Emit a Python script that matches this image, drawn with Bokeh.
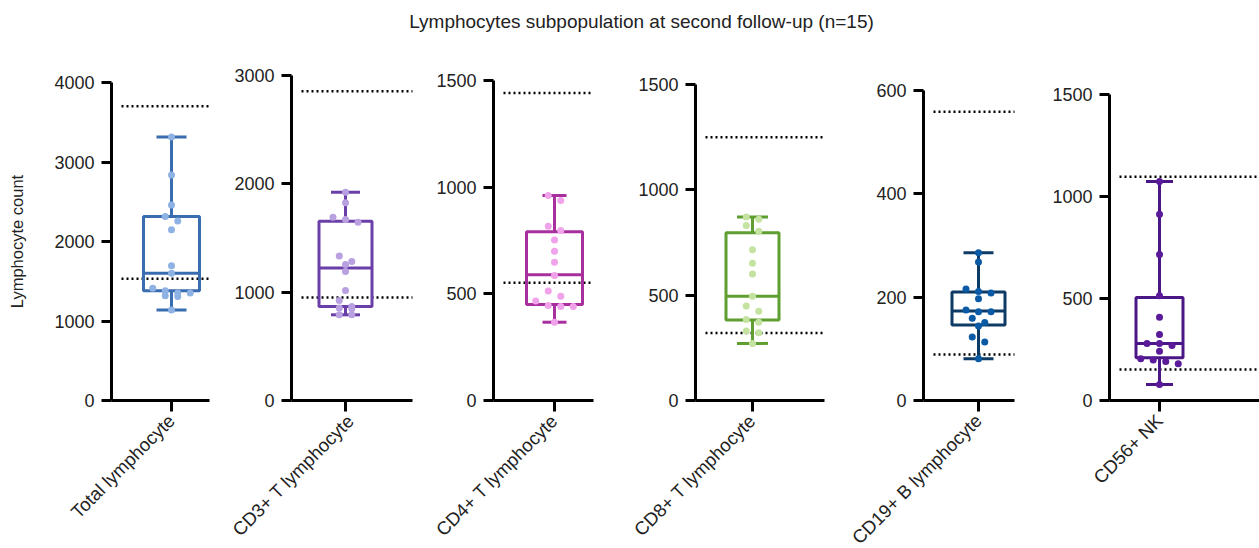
import math
from bokeh.plotting import figure
from bokeh.layouts import row, column
from bokeh.models import Range1d, FixedTicker
from bokeh.core.properties import value
from bokeh.embed import file_html
from bokeh.resources import INLINE

# ---------------- data ----------------
title_text = "Lymphocytes subpopulation at second follow-up (n=15)"
y_label = "Lymphocyte count"
categories = ["Total lymphocyte", "CD3+ T lymphocyte", "CD4+ T lymphocyte",
              "CD8+ T lymphocyte", "CD19+ B lymphocyte", "CD56+ NK"]

values_total = [3313, 2836, 2459, 2316, 2258, 2149, 1696, 1600, 1411, 1382, 1353, 1353, 1319, 1307, 1139]
values_cd3 = [1923, 1825, 1692, 1671, 1646, 1335, 1283, 1255, 1191, 1015, 923, 868, 855, 846, 791, 791]
values_cd4 = [961, 938, 817, 797, 752, 700, 648, 586, 513, 489, 466, 445, 441, 441, 367]
values_cd8 = [871, 860, 831, 803, 715, 651, 600, 495, 449, 424, 385, 371, 330, 322, 271]
values_cd19 = [286, 268, 216, 211, 208, 197, 175, 172, 172, 159, 151, 144, 123, 113, 81]
values_cd56 = [1073, 913, 716, 513, 408, 324, 279, 279, 269, 241, 205, 199, 191, 180, 78]
all_values = [values_total, values_cd3, values_cd4, values_cd8, values_cd19, values_cd56]

box_low = [1139, 791, 367, 271, 81, 78]
box_q1 = [1382, 868, 450, 382, 146, 209]
box_median = [1600, 1222, 589, 495, 173, 279]
box_q3 = [2316, 1655, 791, 796, 210, 505]
box_high = [3313, 1923, 961, 871, 286, 1073]

ref_upper = [3700, 2855, 1441, 1250, 559, 1097]
ref_lower = [1530, 951, 552, 320, 89, 152]

y_max = [4000, 3000, 1500, 1500, 600, 1500]
y_step = [1000, 1000, 500, 500, 200, 500]

box_colors = ["#3A6DB0", "#6A3FA8", "#A8309E", "#5F9E30", "#0E3A66", "#4B1686"]
point_colors = ["#8DB2E3", "#B9A0E0", "#F0A3EA", "#C5E3A0", "#0B5AA6", "#5A1A9A"]

# ---------------- layout (page pixels) ----------------
PAGE_W, PAGE_H = 1259, 548
title_h = 40
zero_y = 400                                   # page y of the value 0
axis_top_y = [82, 75, 80, 84, 90, 94]          # page y of each panel's top tick
fig_edges = [0, 225, 430, 625, 845, 1040, PAGE_W]
axis_x = [111, 291, 493, 695, 923, 1109]       # y-axis line
center_x = [171, 345, 554, 752, 978, 1159]     # box centre
frame_end_x = [209, 412, 593, 824, 1014, PAGE_W]
box_w = [56, 53, 56, 53, 53, 47]
cap_w = [30, 29, 24, 31, 30, 27]

FONT = "Liberation Sans"
TXT = "#222222"


def swarm(vals, px_per_unit, step=12.5, row_gap=6.0):
    """Simple beeswarm: group close points into rows, centre each row."""
    order = sorted(range(len(vals)), key=lambda k: -vals[k])
    rows, cur = [], []
    for k in order:
        if cur and (vals[cur[0]] - vals[k]) * px_per_unit >= row_gap:
            rows.append(cur)
            cur = []
        cur.append(k)
    if cur:
        rows.append(cur)
    xs = [0.0] * len(vals)
    for r in rows:
        n = len(r)
        for j, k in enumerate(r):
            xs[k] = (j - (n - 1) / 2) * step
    return xs


fig_h = PAGE_H - title_h
figs = []
for i, cat in enumerate(categories):
    ppu = (zero_y - axis_top_y[i]) / y_max[i]
    cx = center_x[i]
    xr = Range1d(fig_edges[i] - cx, fig_edges[i + 1] - cx)
    yr = Range1d((zero_y - PAGE_H) / ppu, (zero_y - title_h) / ppu)
    p = figure(width=fig_edges[i + 1] - fig_edges[i], height=fig_h,
               x_range=xr, y_range=yr, toolbar_location=None, output_backend="svg",
               min_border=0)
    p.outline_line_color = None
    p.grid.visible = False
    ax_left = axis_x[i] - cx
    ax_right = frame_end_x[i] - cx

    # reference (dotted) lines
    x0 = ax_left + 10
    p.segment(x0=[x0, x0], x1=[ax_right, ax_right], y0=[ref_upper[i], ref_lower[i]],
              y1=[ref_upper[i], ref_lower[i]], line_color="black", line_width=2.5,
              line_dash="2 3")

    c = box_colors[i]
    hw = box_w[i] / 2
    cw = cap_w[i] / 2
    # whiskers
    p.segment(x0=[0, 0], x1=[0, 0], y0=[box_q3[i], box_q1[i]], y1=[box_high[i], box_low[i]],
              line_color=c, line_width=3)
    p.segment(x0=[-cw, -cw], x1=[cw, cw], y0=[box_high[i], box_low[i]], y1=[box_high[i], box_low[i]],
              line_color=c, line_width=3)
    # box
    p.quad(left=[-hw], right=[hw], bottom=[box_q1[i]], top=[box_q3[i]],
           fill_color=None, line_color=c, line_width=3)
    p.segment(x0=[-hw], x1=[hw], y0=[box_median[i]], y1=[box_median[i]], line_color=c, line_width=3)

    # points
    vals = all_values[i]
    xs = swarm(vals, ppu)
    p.scatter(x=xs, y=vals, size=7, marker="circle", fill_color=point_colors[i],
              line_color=None)

    # axes (fixed inside the canvas so that nothing is clipped)
    for ax in (p.xaxis[0], p.yaxis[0]):
        ax.axis_line_width = 3
        ax.axis_line_color = "black"
        ax.major_tick_line_width = 3
        ax.major_tick_line_color = "black"
        ax.minor_tick_line_color = None
        ax.major_tick_in = 0
        ax.major_label_text_font = FONT
        ax.major_label_text_color = TXT
    p.yaxis.fixed_location = ax_left
    p.yaxis.bounds = (0, y_max[i])
    p.yaxis.ticker = FixedTicker(ticks=list(range(0, y_max[i] + 1, y_step[i])))
    p.yaxis.major_tick_out = 10
    p.yaxis.major_label_standoff = 7
    p.yaxis.major_label_text_font_size = "18px"

    p.xaxis.fixed_location = 0
    p.xaxis.bounds = (ax_left, ax_right)
    p.xaxis.ticker = FixedTicker(ticks=[0])
    p.xaxis.major_label_overrides = {0: cat}
    p.xaxis.major_label_orientation = math.pi / 4
    p.xaxis.major_tick_out = 11
    p.xaxis.major_label_standoff = 6
    p.xaxis.major_label_text_font_size = "18.5px"
    if i == 0:
        p.yaxis.axis_label = y_label
        p.yaxis.axis_label_text_font = FONT
        p.yaxis.axis_label_text_font_style = "normal"
        p.yaxis.axis_label_text_font_size = "16.5px"
        p.yaxis.axis_label_text_color = TXT
        p.yaxis.axis_label_standoff = 25
    figs.append(p)

t = figure(width=PAGE_W, height=title_h, x_range=Range1d(0, PAGE_W), y_range=Range1d(0, title_h),
           toolbar_location=None, output_backend="svg", min_border=0,
           x_axis_location=None, y_axis_location=None)
t.outline_line_color = None
t.grid.visible = False
t.text(x=[641], y=[19], text=[title_text], text_align="center", text_baseline="alphabetic",
       text_font=value(FONT), text_font_size="19px", text_color=TXT)

layout = column(t, row(*figs, spacing=0), spacing=0)
open("out.html", "w").write(file_html(layout, INLINE))
